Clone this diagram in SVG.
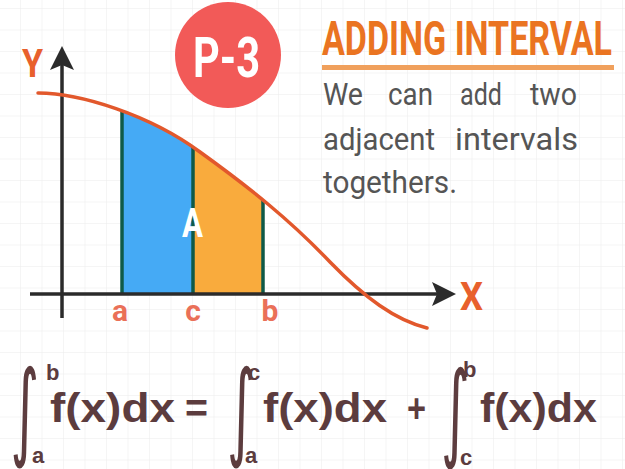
<svg xmlns="http://www.w3.org/2000/svg" width="625" height="469" viewBox="0 0 625 469">
<defs>
<pattern id="grid" x="20" y="8" width="21.5" height="21.5" patternUnits="userSpaceOnUse">
<path d="M0,0 H21.5 M0,0 V21.5" fill="none" stroke="#ebebeb" stroke-width="1"/>
</pattern>
<clipPath id="under">
<path d="M38,93 C80,93 150,115 200,152 C250,188 290,220 330,262 C365,298 395,320 427,328 L427,294 L38,294 Z"/>
</clipPath>
<marker id="arr" viewBox="0 0 24 24" refX="20" refY="12" markerWidth="24" markerHeight="24" markerUnits="userSpaceOnUse" orient="auto">
<path d="M0,0 L24,12 L0,24 L5,12 Z" fill="#2b2b2b"/>
</marker>
<style>
.lbl{font-family:Roboto,"Liberation Sans",sans-serif;font-weight:bold;}
.body{font-family:Roboto,"Liberation Sans",sans-serif;font-size:32px;fill:#555555;}
.fx{font-family:"Liberation Sans",Arial,sans-serif;font-weight:bold;fill:#5c3c3e;}
.int{font-family:"DejaVu Sans",sans-serif;fill:#5c3c3e;font-size:100px;}
.lim{font-family:"Liberation Sans",Arial,sans-serif;font-weight:bold;fill:#5c3c3e;font-size:22px;}
.sep{stroke:#0f5a48;stroke-width:3.5;}
</style>
</defs>
<rect width="625" height="469" fill="#ffffff"/>
<rect width="625" height="469" fill="url(#grid)"/>

<g id="areas">
<g clip-path="url(#under)">
<rect x="121" y="60" width="72" height="234" fill="#45aaf5"/>
<rect x="193" y="60" width="70" height="234" fill="#f9ab3d"/>
<line class="sep" x1="122" y1="60" x2="122" y2="294"/>
<line class="sep" x1="193" y1="60" x2="193" y2="294"/>
<line class="sep" x1="263" y1="60" x2="263" y2="294"/>
</g>
<text class="lbl" x="182" y="237" font-size="40" fill="#ffffff" textLength="21" lengthAdjust="spacingAndGlyphs">A</text>
</g>

<g id="connectors">
<line x1="62" y1="318" x2="62" y2="50" stroke="#2b2b2b" stroke-width="3.5" marker-end="url(#arr)"/>
<line x1="30" y1="294" x2="452" y2="294" stroke="#2b2b2b" stroke-width="3.5" marker-end="url(#arr)"/>
</g>

<g id="curve">
<path d="M38,93 C80,93 150,115 200,152 C250,188 290,220 330,262 C365,298 395,320 427,328" fill="none" stroke="#e2582c" stroke-width="3.5" stroke-linecap="round"/>
</g>

<g id="axis-labels">
<text class="lbl" x="22" y="77" font-size="38" fill="#e8602c" textLength="21" lengthAdjust="spacingAndGlyphs">Y</text>
<text class="lbl" x="460" y="310" font-size="39" fill="#e8602c" textLength="23" lengthAdjust="spacingAndGlyphs">X</text>
<text class="lbl" x="120" y="321" font-size="30" fill="#ea7058" text-anchor="middle">a</text>
<text class="lbl" x="193" y="321" font-size="30" fill="#ea7058" text-anchor="middle">c</text>
<text class="lbl" x="270" y="321" font-size="30" fill="#ea7058" text-anchor="middle">b</text>
</g>

<g id="badge">
<circle cx="228" cy="55" r="53" fill="#f25a58"/>
<text class="lbl" x="193" y="77" font-size="56" fill="#ffffff" textLength="67" lengthAdjust="spacingAndGlyphs">P-3</text>
</g>

<g id="title">
<text class="lbl" x="322" y="55" font-size="49" fill="#ea7421" textLength="290" lengthAdjust="spacingAndGlyphs">ADDING INTERVAL</text>
<rect x="322" y="65" width="292" height="5" fill="#f0a05c"/>
</g>

<g id="body">
<text class="body" x="323" y="105" textLength="40" lengthAdjust="spacingAndGlyphs">We</text>
<text class="body" x="388" y="105" textLength="45" lengthAdjust="spacingAndGlyphs">can</text>
<text class="body" x="460" y="105" textLength="42" lengthAdjust="spacingAndGlyphs">add</text>
<text class="body" x="530" y="105" textLength="47" lengthAdjust="spacingAndGlyphs">two</text>
<text class="body" x="323" y="150" textLength="112" lengthAdjust="spacingAndGlyphs">adjacent</text>
<text class="body" x="455" y="150" textLength="123" lengthAdjust="spacingAndGlyphs">intervals</text>
<text class="body" x="323" y="193" textLength="134" lengthAdjust="spacingAndGlyphs">togethers.</text>
</g>

<g id="formula">
<text class="int" transform="translate(10.5,446) scale(0.55,1.06)">∫</text>
<text class="lim" x="46" y="380">b</text>
<text class="lim" x="32" y="463">a</text>
<text class="fx" x="50" y="422" font-size="40" textLength="125" lengthAdjust="spacingAndGlyphs">f(x)dx</text>
<text class="fx" x="185" y="422" font-size="40" textLength="23" lengthAdjust="spacingAndGlyphs">=</text>
<text class="int" transform="translate(227,446) scale(0.55,1.06)">∫</text>
<text class="lim" x="248" y="380">c</text>
<text class="lim" x="245" y="463">a</text>
<text class="fx" x="263" y="422" font-size="40" textLength="124" lengthAdjust="spacingAndGlyphs">f(x)dx</text>
<text class="fx" x="407" y="422" font-size="40" textLength="19" lengthAdjust="spacingAndGlyphs">+</text>
<text class="int" transform="translate(441,447) scale(0.55,1.06)">∫</text>
<text class="lim" x="463" y="377">b</text>
<text class="lim" x="460" y="465">c</text>
<text class="fx" x="480" y="422" font-size="40" textLength="117" lengthAdjust="spacingAndGlyphs">f(x)dx</text>
</g>
</svg>
